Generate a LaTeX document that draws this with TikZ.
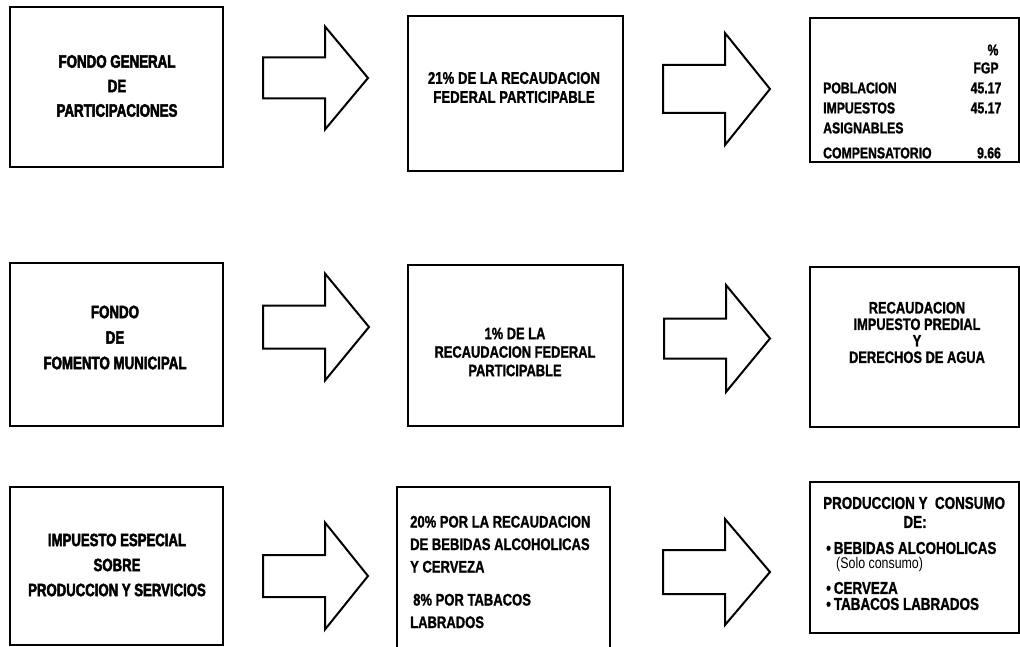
\documentclass[tikz,border=0pt]{standalone}
\usepackage{fontspec}
\setmainfont{Liberation Sans}[FakeStretch=0.78, FakeBold=1.2]
\newfontfamily\heavyfont{Liberation Sans}[FakeStretch=0.74, FakeBold=2.6]
\newfontfamily\plainfont{Liberation Sans}[FakeStretch=0.8]
\newcommand\blkarrow[7]{%
  % #1 name, #2 shaft left x, #3 head base x, #4 tip x, #5 centre y, #6 half shaft, #7 half head
  \draw[barrow] (#2,#5-#6) coordinate (#1s) -- (#3,#5-#6) -- (#3,#5-#7) -- (#4,#5) coordinate (#1t)
     -- (#3,#5+#7) -- (#3,#5+#6) -- (#2,#5+#6) -- cycle;}
\begin{document}
\begin{tikzpicture}[x=1pt,y=-1pt,
  box/.style={draw=black, line width=2pt, inner sep=0pt, fill=white},
  ttl/.style={inner sep=0pt, align=center},
  mid/.style={inner sep=0pt, align=center},
  cl/.style={inner sep=0pt, font=\bfseries\fontsize{15.7}{18}\selectfont},
  cr/.style={inner sep=0pt, font=\bfseries\fontsize{17.2}{20}\selectfont},
  barrow/.style={draw=black, line width=2pt, line join=miter, fill=white},
]
\useasboundingbox (0,0) rectangle (1020,647);
\fill[white] (0,0) rectangle (1020,647);

% ---------- row 1 ----------
\node[box, minimum width=213pt, minimum height=160pt] (A1) at (116.5,87) {};
\node[box, minimum width=215pt, minimum height=155pt] (B1) at (515.5,93.5) {};
\node[box, minimum width=209pt, minimum height=144pt] (C1) at (914.5,90) {};
\node[ttl, font=\heavyfont\bfseries\fontsize{18}{24.5}\selectfont] (A1t) at (117,86) {FONDO GENERAL\\DE\\PARTICIPACIONES};
\node[mid, font=\bfseries\fontsize{16.9}{19}\selectfont] (B1t) at (514,87.5) {21\% DE LA RECAUDACION\\FEDERAL PARTICIPABLE};
\node[cl] (C1p) at (993,50) {\%};
\node[cl] (C1f) at (986,68) {FGP};
\node[cl, anchor=west] (C1a) at (823,88) {POBLACION};
\node[cl, anchor=west] (C1b) at (823,108) {IMPUESTOS};
\node[cl, anchor=west] (C1c) at (823,128) {ASIGNABLES};
\node[cl, anchor=west] (C1d) at (823,153) {COMPENSATORIO};
\node[cl] (C1v1) at (986,88) {45.17};
\node[cl] (C1v2) at (986,108) {45.17};
\node[cl] (C1v3) at (989,153) {9.66};
\blkarrow{r1a}{263}{325}{368}{78}{20.5}{51.5}
\blkarrow{r1b}{663}{725}{770}{89}{24}{56}

% ---------- row 2 ----------
\node[box, minimum width=213pt, minimum height=163pt] (A2) at (116.5,344.5) {};
\node[box, minimum width=215pt, minimum height=161pt] (B2) at (515.5,345.5) {};
\node[box, minimum width=209pt, minimum height=160pt] (C2) at (914.5,347) {};
\node[ttl, font=\heavyfont\bfseries\fontsize{18}{25.5}\selectfont] (A2t) at (115,337.5) {FONDO\\DE\\FOMENTO MUNICIPAL};
\node[mid, font=\bfseries\fontsize{16.5}{18.5}\selectfont] (B2t) at (515,352) {1\% DE LA\\RECAUDACION FEDERAL\\PARTICIPABLE};
\node[mid, font=\bfseries\fontsize{16.5}{16.5}\selectfont] (C2t) at (917,332.5) {RECAUDACION\\IMPUESTO PREDIAL\\Y\\DERECHOS DE AGUA};
\blkarrow{r2a}{263}{325}{369}{327}{21.5}{53.5}
\blkarrow{r2b}{664}{726}{770}{338.5}{20}{53.5}

% ---------- row 3 ----------
\node[box, minimum width=213pt, minimum height=158pt] (A3) at (116.5,566) {};
\node[box, minimum width=213pt, minimum height=170pt] (B3) at (503.5,572) {};
\node[box, minimum width=209pt, minimum height=151pt] (C3) at (914.5,557.5) {};
\node[ttl, font=\heavyfont\bfseries\fontsize{17.8}{25}\selectfont] (A3t) at (117,565) {IMPUESTO ESPECIAL\\SOBRE\\PRODUCCION Y SERVICIOS};
\node[mid, align=left, anchor=west, font=\bfseries\fontsize{16.7}{22.5}\selectfont] (B3t) at (410,572)
  {20\% POR LA RECAUDACION\\DE BEBIDAS ALCOHOLICAS\\Y CERVEZA\\[10.5pt]\hspace*{3pt}8\% POR TABACOS\\LABRADOS};
\node[cr, anchor=west] (C3a) at (823,503) {PRODUCCION Y\ \ CONSUMO};
\node[cr] (C3b) at (915,522) {DE:};
\node[cr, anchor=west] (C3c) at (826,548) {\textbullet\hspace{3pt}BEBIDAS ALCOHOLICAS};
\node[inner sep=0pt, anchor=west, font=\plainfont\fontsize{15.5}{17}\selectfont] (C3d) at (836,564) {(Solo consumo)};
\node[cr, anchor=west] (C3e) at (826,588) {\textbullet\hspace{3pt}CERVEZA};
\node[cr, anchor=west] (C3f) at (826,604) {\textbullet\hspace{3pt}TABACOS LABRADOS};
\blkarrow{r3a}{263}{325}{368}{576}{21}{53.5}
\blkarrow{r3b}{663}{725}{770}{572}{22}{53}
\end{tikzpicture}
\end{document}
